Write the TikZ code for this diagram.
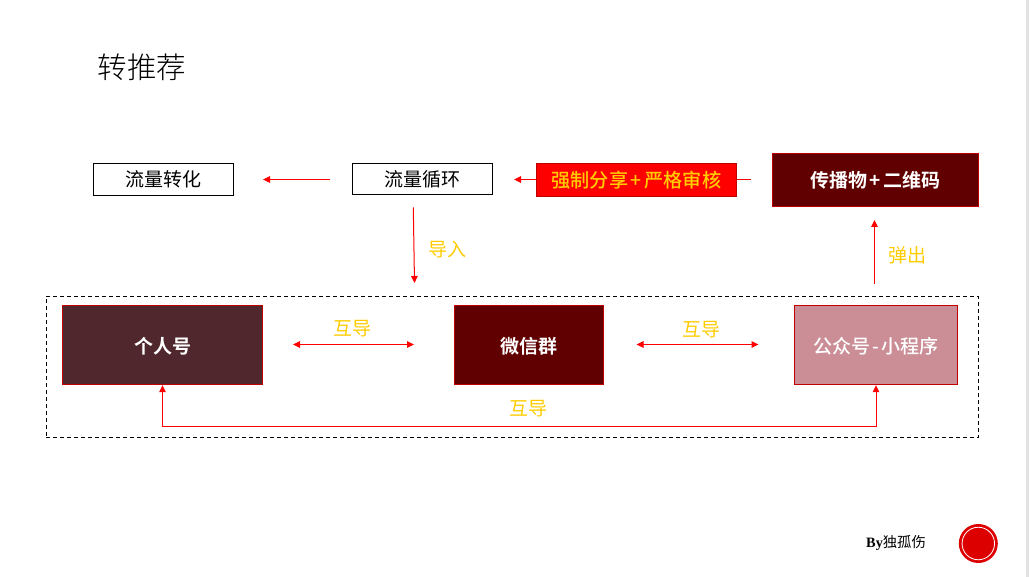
\documentclass[tikz,border=0pt]{standalone}
\usepackage{fontspec}
\usetikzlibrary{arrows.meta}
\setmainfont{Noto Sans CJK SC}
\newfontfamily\cjkthin{Noto Sans CJK SC Light}
\newfontfamily\cjkmid{Noto Sans CJK SC Medium}
\newfontfamily\cjkbold{Noto Sans CJK SC Bold}
\newfontfamily\latinserif{Liberation Serif}
\definecolor{darkred}{HTML}{600000}
\definecolor{brownred}{HTML}{4F272C}
\definecolor{pinkred}{HTML}{CB8E96}
\definecolor{edgered}{HTML}{C00000}
\definecolor{labelyellow}{HTML}{FFCC00}
\definecolor{sealred}{HTML}{DD0000}
\definecolor{sidebar}{HTML}{E2E2E2}
\tikzset{
  x=1pt,y=-1pt,
  boxbase/.style={inner sep=0pt,anchor=center,align=center,line width=1pt},
  plainbox/.style={boxbase,draw=black,fill=white,font=\fontsize{19}{22}\selectfont,text=black},
  redbox/.style={boxbase,draw=edgered,font=\fontsize{19}{24}\cjkbold,text=white},
  lowbox/.style={redbox,text height=19pt,text depth=2.2pt},
  hotbox/.style={boxbase,draw=edgered,fill=red,font=\fontsize{19.2}{24}\cjkmid,text=labelyellow},
  flow/.style={draw=red,line width=1pt,-{Triangle[length=7pt,width=6.5pt]}},
  flowtwo/.style={draw=red,line width=1pt,{Triangle[length=7pt,width=6.5pt]}-{Triangle[length=7pt,width=6.5pt]}},
  tag/.style={inner sep=0pt,text=labelyellow,font=\fontsize{19}{22}\selectfont},
}
\begin{document}
\begin{tikzpicture}
\useasboundingbox (0,0) rectangle (1029,577);
\fill[white] (0,0) rectangle (1029,577);
\fill[sidebar] (1026,0) rectangle (1029,577);
\node[inner sep=0pt,font=\fontsize{29.5}{34}\cjkthin] (title) at (142,67.5) {转推荐};

% named free ends
\coordinate (a1s) at (330,179.5);
\coordinate (a1e) at (263,179.5);
\coordinate (a2s) at (751,179.5);
\coordinate (a2e) at (514,179.5);
\coordinate (a3s) at (413.3,207.5);
\coordinate (a3e) at (414.5,283);
\coordinate (a4s) at (874.5,284);
\coordinate (a4e) at (874.5,220);
\coordinate (a5s) at (293,344.5);
\coordinate (a5e) at (414,344.5);
\coordinate (a6s) at (636.5,344.5);
\coordinate (a6e) at (758.5,344.5);

\draw[flow] (a2s) -- (a2e);

\node[plainbox,minimum width=140pt,minimum height=32pt] (conv) at (163.3,179.5) {流量转化};
\node[plainbox,minimum width=140pt,minimum height=31.5pt] (loop) at (422.5,179) {流量循环};
\node[hotbox,minimum width=200pt,minimum height=32.5pt] (force) at (636.4,179.8) {强制分享\kern2.7pt+\kern2.7pt严格审核};
\node[redbox,fill=darkred,minimum width=206.5pt,minimum height=53pt] (spread) at (875.4,180) {传播物\kern2.7pt+\kern2.7pt二维码};

\node[draw=black,line width=1pt,dash pattern=on 4pt off 3pt,minimum width=932.4pt,minimum height=141pt,inner sep=0pt] (group) at (512.5,366.8) {};

\node[lowbox,fill=brownred,minimum width=200.4pt,minimum height=79.4pt] (person) at (162.5,345) {个人号};
\node[lowbox,fill=darkred,minimum width=149.6pt,minimum height=79.4pt] (wechat) at (528.8,345) {微信群};
\node[lowbox,fill=pinkred,font=\fontsize{19}{24}\cjkmid,minimum width=163.6pt,minimum height=79.4pt] (public) at (876,345) {公众号\kern2pt-\kern2pt小程序};

\draw[flow] (a1s) -- (a1e);
\draw[flow] (a3s) -- (a3e);
\draw[flow] (a4s) -- (a4e);
\draw[flowtwo] (a5s) -- (a5e);
\draw[flowtwo] (a6s) -- (a6e);
\draw[flowtwo] (person.south) -- ++(0,41.6) -| (public.south);

\node[tag] (t1) at (447,249.5) {导入};
\node[tag] (t2) at (907,255.5) {弹出};
\node[tag] (t3) at (352,329) {互导};
\node[tag] (t4) at (701.5,330) {互导};
\node[tag] (t5) at (528.5,409) {互导};

\node[inner sep=0pt,font=\fontsize{14.3}{17}\selectfont] (by) at (896,543.5) {{\latinserif\bfseries By}独孤伤};
\node[circle,fill=sealred,minimum size=39pt,inner sep=0pt] (seal) at (978.3,543.5) {};
\node[circle,draw=white,line width=0.8pt,minimum size=32.5pt,inner sep=0pt] (ring) at (seal.center) {};
\end{tikzpicture}
\end{document}
